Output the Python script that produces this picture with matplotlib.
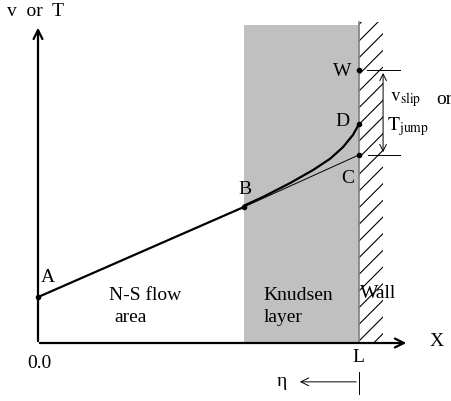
import numpy as np
import matplotlib.pyplot as plt
from matplotlib.patches import Rectangle

plt.rcParams['font.family'] = ['Liberation Serif', 'DejaVu Serif']
plt.rcParams['mathtext.fontset'] = 'stix'
plt.rcParams['hatch.linewidth'] = 0.8

# schematic values (x scaled so that the wall sits at L = 1)
L = 1.0
x_knudsen = 0.642          # edge of the Knudsen layer (point B)
x_ns = [0.0, 0.642]        # N-S linear profile A -> B
y_ns = [0.143, 0.424]
y_C = 0.586                # linear extrapolation to the wall
y_D = 0.682                # actual value at the wall
y_W = 0.850                # wall value

# real profile inside the Knudsen layer (B -> D)
x_kn = [0.642, 0.701, 0.785, 0.857, 0.910, 0.950, 0.981, 1.0]
y_kn = [0.428, 0.455, 0.498, 0.539, 0.574, 0.610, 0.648, 0.682]

fig = plt.figure(figsize=(4.52, 4.01), dpi=100)
ax = fig.add_axes([0, 0, 1, 1])
ax.set_xlim(-38 / 321, 414 / 321)
ax.set_ylim(-58 / 321, 343 / 321)
ax.axis('off')

# Knudsen layer and wall
ax.add_patch(Rectangle((x_knudsen, 0), L - x_knudsen, 0.991,
                       facecolor='#c0c0c0', edgecolor='none', zorder=1))
ax.add_patch(Rectangle((L, 0), 0.075, 1.0, facecolor='white',
                       edgecolor='black', hatch='//', linewidth=0, zorder=1))
ax.plot([L, L], [0, 1.0], color='#808080', lw=1.2, zorder=2)

# axes arrows
arr = dict(arrowstyle='->', color='black', lw=1.6, mutation_scale=16)
ax.annotate('', xy=(1.156, 0), xytext=(-0.003, 0), arrowprops=arr, zorder=5)
ax.annotate('', xy=(0, 0.991), xytext=(0, -0.003), arrowprops=arr, zorder=5)

# profiles
ax.plot(x_ns, y_ns, color='black', lw=1.6, zorder=4)
ax.plot([x_ns[1], L], [y_ns[1], y_C], color='black', lw=0.7, zorder=4)
ax.plot(x_kn, y_kn, color='black', lw=1.6, zorder=4)
ax.plot([0, x_knudsen, L, L, L], [y_ns[0], y_ns[1], y_C, y_D, y_W],
        'o', color='black', ms=3, zorder=6)

# slip / jump dimension
ax.plot([1.025, 1.128], [y_W, y_W], color='black', lw=0.7)
ax.plot([1.028, 1.128], [y_C, y_C], color='black', lw=0.7)
ax.annotate('', xy=(1.075, y_W), xytext=(1.075, y_C),
            arrowprops=dict(arrowstyle='<->', color='black', lw=0.7,
                            mutation_scale=12))

# eta direction
ax.annotate('', xy=(0.807, -0.121), xytext=(L, -0.121),
            arrowprops=dict(arrowstyle='->', color='black', lw=0.7,
                            mutation_scale=14))
ax.plot([L, L], [-0.090, -0.159], color='black', lw=0.7)

def px(x, y):
    return (x - 38) / 321, (343 - y) / 321

fs = 14
labels = [
    ('v  or  T', 7, 11, 'left'),
    ('A', 48, 277, 'center'),
    ('B', 245, 190, 'center'),
    ('C', 348, 178, 'center'),
    ('D', 342, 122, 'center'),
    ('W', 342, 72, 'center'),
    ('N-S flow', 109, 295, 'left'),
    ('area', 114, 318, 'left'),
    ('Knudsen', 263, 295, 'left'),
    ('layer', 264, 317, 'left'),
    ('Wall', 360, 294, 'left'),
    ('X', 437, 342, 'center'),
    ('0.0', 39, 363, 'center'),
    ('L', 358, 357, 'center'),
    ('η', 282, 381, 'center'),
]
for s, x, y, ha in labels:
    ax.text(*px(x, y), s, fontsize=fs, ha=ha, va='center')

ax.text(*px(390, 100), r'$\mathrm{v}_{\mathrm{slip}}$', fontsize=fs,
        ha='left', va='center')
ax.text(*px(436, 100), 'or', fontsize=fs, ha='left', va='center')
ax.text(*px(387, 127), r'$\mathrm{T}_{\mathrm{jump}}$', fontsize=fs,
        ha='left', va='center')

fig.savefig('out.png', dpi=100)
